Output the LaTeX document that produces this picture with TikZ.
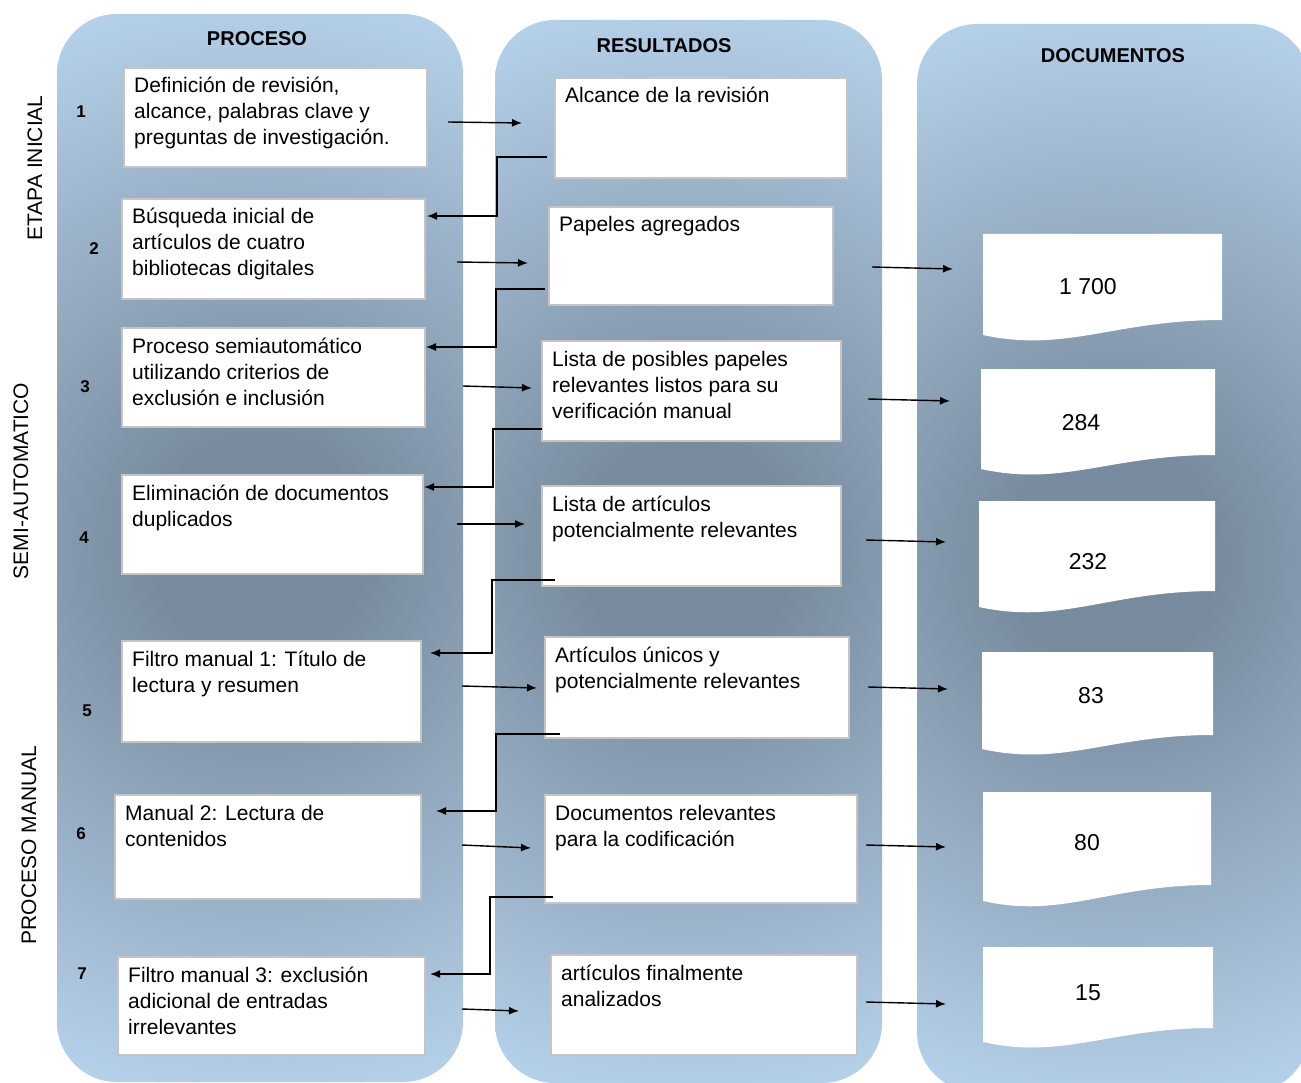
\documentclass[tikz,border=0pt]{standalone}
\usepackage{fontspec}
\setmainfont{Liberation Sans}
\usetikzlibrary{arrows.meta}
\definecolor{lightc}{RGB}{184,212,237}
\definecolor{darkc}{RGB}{120,139,158}
\definecolor{bordc}{RGB}{196,196,196}
\pgfdeclareradialshading{colshade}{\pgfpoint{0bp}{0bp}}{color(0bp)=(darkc); color(5bp)=(darkc); color(27bp)=(lightc); color(50bp)=(lightc)}
\newcommand{\colbg}[4]{%
  \begin{scope}
    \clip[rounded corners=60pt] (#1,#2) rectangle (#3,#4);
    \shade[shading=colshade] ({#1-320},#2) rectangle ({#3+320},#4);
  \end{scope}}
\newcommand{\tbox}[6]{%
  \node[bx, minimum width=#4pt, minimum height=#5pt] (#1) at ({#2+#4/2},{#3+#5/2}) {};
  \node[txt] (#1t) at ({#2+10},{#3+25}) {\parbox[t]{\dimexpr#4pt-20pt\relax}{\raggedright #6}};}
\newcommand{\docbox}[9]{%
  \fill[white] (#2,#4) -- (#3,#4) -- (#3,#5) .. controls ({#3-0.45*(#3-#2)},#5) and ({#2+0.35*(#3-#2)},{#6+18}) .. (#2,#6) -- cycle;
  \node[doctxt] (#1) at (#7,#8) {#9};}
\begin{document}
\begin{tikzpicture}[x=1pt,y=-1pt,
  bx/.style={draw=bordc, line width=1.5pt, fill=white, inner sep=0pt},
  txt/.style={inner sep=0pt, anchor=base west, font=\fontsize{21}{26}\selectfont},
  hdr/.style={font=\bfseries\fontsize{20}{24}\selectfont},
  num/.style={font=\bfseries\fontsize{17}{20}\selectfont},
  side/.style={font=\fontsize{21}{24}\selectfont, rotate=90},
  doctxt/.style={font=\fontsize{23}{26}\selectfont},
  arr/.style={line width=1.4pt, -{Latex[length=10pt,width=8pt]}}]
\useasboundingbox (0,0) rectangle (1301,1083);
\fill[white] (0,0) rectangle (1301,1083);
% columns
\colbg{57}{14}{463}{1082}
\colbg{495}{20}{882}{1083}
\colbg{917}{24}{1310}{1092}
% headers
\node[hdr] (h1) at (257,39) {PROCESO};
\node[hdr] (h2) at (664,46) {RESULTADOS};
\node[hdr] (h3) at (1113,56) {DOCUMENTOS};
% side labels
\node[side] (s1) at (35,168) {ETAPA INICIAL};
\node[side] (s2) at (21,481) {SEMI-AUTOMATICO};
\node[side] (s3) at (29,845) {PROCESO MANUAL};
% numbers
\node[num] (n1) at (81,112) {1};
\node[num] (n2) at (94,249) {2};
\node[num] (n3) at (85,387) {3};
\node[num] (n4) at (84,538) {4};
\node[num] (n5) at (87,711) {5};
\node[num] (n6) at (81,834) {6};
\node[num] (n7) at (82,974) {7};
% process boxes
\tbox{p1}{124}{68}{303}{99}{Definición de revisión,\\alcance, palabras clave y\\preguntas de investigación.}
\tbox{p2}{122}{199}{303}{100}{Búsqueda inicial de\\artículos de cuatro\\bibliotecas digitales}
\tbox{p3}{122}{328}{303}{99}{Proceso semiautomático\\utilizando criterios de\\exclusión e inclusión}
\tbox{p4}{122}{475}{301}{99}{Eliminación de documentos\\duplicados}
\tbox{p5}{122}{641}{299}{101}{Filtro manual 1: Título de\\lectura y resumen}
\tbox{p6}{115}{795}{306}{104}{Manual 2: Lectura de\\contenidos}
\tbox{p7}{118}{957}{307}{98}{Filtro manual 3: exclusión\\adicional de entradas\\irrelevantes}
% result boxes
\tbox{r1}{555}{78}{292}{100}{Alcance de la revisión}
\tbox{r2}{549}{207}{284}{98}{Papeles agregados}
\tbox{r3}{542}{341}{299}{100}{Lista de posibles papeles\\relevantes listos para su\\verificación manual}
\tbox{r4}{542}{486}{299}{100}{Lista de artículos\\potencialmente relevantes}
\tbox{r5}{545}{637}{304}{101}{Artículos únicos y\\potencialmente relevantes}
\tbox{r6}{545}{795}{312}{108}{Documentos relevantes\\para la codificación}
\tbox{r7}{551}{955}{306}{100}{artículos finalmente\\analizados}
% documents
\docbox{d1}{983}{1222}{234}{320}{335}{1088}{287}{1 700}
\docbox{d2}{981}{1215}{369}{455}{469}{1081}{423}{284}
\docbox{d3}{979}{1215}{501}{591}{607}{1088}{562}{232}
\docbox{d4}{982}{1213}{652}{735}{749}{1091}{696}{83}
\docbox{d5}{983}{1211}{792}{885}{901}{1087}{843}{80}
\docbox{d6}{983}{1213}{947}{1028}{1042}{1088}{993}{15}
% process -> result arrows
\coordinate (a1s) at (448,122); \coordinate (a1e) at (522,123);
\coordinate (a2s) at (457,262); \coordinate (a2e) at (528,263);
\coordinate (a3s) at (463,386); \coordinate (a3e) at (532,388);
\coordinate (a4s) at (457,524); \coordinate (a4e) at (525,524);
\coordinate (a5s) at (462,686); \coordinate (a5e) at (537,688);
\coordinate (a6s) at (462,845); \coordinate (a6e) at (531,848);
\coordinate (a7s) at (462,1009); \coordinate (a7e) at (519,1011);
\foreach \i in {1,...,7} {\draw[arr] (a\i s) -- (a\i e);}
% result -> next process elbows
\coordinate (e1s) at (547,157); \coordinate (e1e) at (427,216);
\coordinate (e2s) at (545,289); \coordinate (e2e) at (426,347);
\coordinate (e3s) at (542,429); \coordinate (e3e) at (424,487);
\coordinate (e4s) at (555,580); \coordinate (e4e) at (430,653);
\coordinate (e5s) at (560,734); \coordinate (e5e) at (436,811);
\coordinate (e6s) at (553,897); \coordinate (e6e) at (430,974);
\draw[arr] (e1s) -- (497,157) |- (e1e);
\draw[arr] (e2s) -- (496,289) |- (e2e);
\draw[arr] (e3s) -- (493,429) |- (e3e);
\draw[arr] (e4s) -- (492,580) |- (e4e);
\draw[arr] (e5s) -- (496,734) |- (e5e);
\draw[arr] (e6s) -- (490,897) |- (e6e);
% result -> document arrows
\coordinate (b1s) at (872,267); \coordinate (b1e) at (953,269);
\coordinate (b2s) at (868,399); \coordinate (b2e) at (950,401);
\coordinate (b3s) at (866,540); \coordinate (b3e) at (946,542);
\coordinate (b4s) at (868,687); \coordinate (b4e) at (948,689);
\coordinate (b5s) at (866,845); \coordinate (b5e) at (946,847);
\coordinate (b6s) at (866,1002); \coordinate (b6e) at (946,1004);
\foreach \i in {1,...,6} {\draw[arr] (b\i s) -- (b\i e);}
\end{tikzpicture}
\end{document}
